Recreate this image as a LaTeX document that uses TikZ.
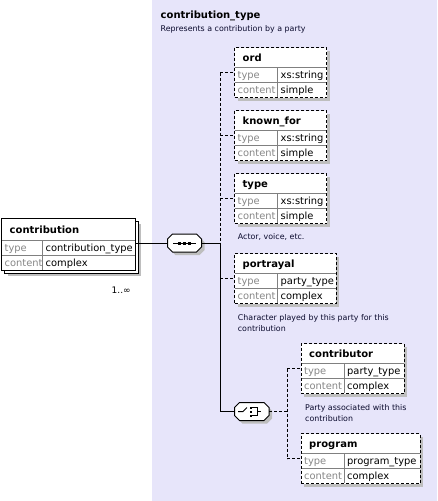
\documentclass[tikz,border=0pt]{standalone}
\usepackage{fontspec}
\setmainfont{DejaVu Sans}
\definecolor{lav}{RGB}{231,229,250}
\definecolor{shad}{RGB}{190,190,190}
\definecolor{lbl}{RGB}{135,135,135}
\definecolor{divc}{RGB}{128,128,128}
\definecolor{desc}{RGB}{10,10,45}
\tikzset{
  xbox/.style={draw=black, fill=white, line width=1pt, inner sep=0pt, outer sep=0pt, anchor=north west, rectangle},
  optline/.style={dash pattern=on 3pt off 2pt},
  conn/.style={line width=1pt, draw=black},
  divline/.style={line width=1pt, draw=divc},
  ttl/.style={anchor=base west, inner sep=0pt, font=\fontsize{10}{12}\selectfont\bfseries},
  lab/.style={anchor=base west, inner sep=0pt, text=lbl, font=\fontsize{9.9}{11}\selectfont},
  val/.style={anchor=base west, inner sep=0pt, font=\fontsize{9.9}{11}\selectfont},
  dsc/.style={anchor=base west, inner sep=0pt, text=desc, font=\fontsize{7.9}{11}\selectfont},
  comp/.style={draw=none, fill=none, inner sep=0pt, outer sep=0pt, rectangle},
  glyph/.style={line width=1pt, draw=black},
}
% #1 name, #2 x, #3 y, #4 width, #5 title, #6 type, #7 content, #8 extra style
\newcommand\xelem[8]{%
  \fill[shad] ({#2+3},{#3+3}) rectangle ({#2+#4+3},{#3+53});
  \node[xbox, #8, minimum width=#4pt, minimum height=50pt] (#1) at (#2,#3) {};
  \draw[divline] ({#2+0.5},{#3+20}) -- ({#2+#4-0.5},{#3+20});
  \draw[divline] ({#2+0.5},{#3+35}) -- ({#2+#4-0.5},{#3+35});
  \draw[divline] ({#2+43},{#3+20}) -- ({#2+43},{#3+49.5});
  \node[ttl] (#1-title) at ({#2+8},{#3+13.8}) {#5};
  \node[lab] (#1-tl) at ({#2+3},{#3+30.8}) {type};
  \node[val] (#1-tv) at ({#2+46},{#3+30.8}) {#6};
  \node[lab] (#1-cl) at ({#2+3},{#3+46}) {content};
  \node[val] (#1-cv) at ({#2+46},{#3+46}) {#7};
}
% octagon: x0 y0 x1 y1 style
\newcommand\octa[5]{%
  \path[#5] ({#1+5},#2) -- ({#3-5},#2) -- (#3,{#2+5}) -- (#3,{#4-5}) -- ({#3-5},#4) -- ({#1+5},#4) -- (#1,{#4-5}) -- (#1,{#2+5}) -- cycle;}
\begin{document}
\begin{tikzpicture}[x=1pt,y=-1pt]
\useasboundingbox (0,0) rectangle (437,501);
\fill[white] (0,0) rectangle (437,501);
\fill[lav] (152,0) rectangle (437,501);

% header
\node[ttl] (hdr) at (160.5,18.8) {contribution\_type};
\node[dsc] (hdrdesc) at (160.5,31.5) {Represents a contribution by a party};

% contribution (stacked)
\fill[shad] (7.5,224) rectangle (141,276);
\draw[fill=white, line width=1pt] (4.5,221) rectangle (138,273);
\node[xbox, minimum width=133.5pt, minimum height=52pt] (contribution) at (1.5,218) {};
\draw[divline] (2,240) -- (134.5,240);
\draw[divline] (2,255) -- (134.5,255);
\draw[divline] (42.5,240) -- (42.5,269.5);
\node[ttl] (contribution-title) at (9.5,233) {contribution};
\node[lab] (contribution-tl) at (4.5,251) {type};
\node[val] (contribution-tv) at (45.5,251) {contribution\_type};
\node[lab] (contribution-cl) at (4.5,266) {content};
\node[val] (contribution-cv) at (45.5,266) {complex};
\node[anchor=base west, inner sep=0pt, font=\fontsize{9}{11}\selectfont] (mult) at (111.5,293) {1..∞};

% sequence compositor
\octa{170.5}{237}{204.5}{255}{fill=shad}
\octa{167.5}{234}{201.5}{252}{fill=white, draw=black, line width=1pt}
\node[comp, minimum width=34pt, minimum height=18pt] (seq) at (184.5,243) {};
\draw[glyph] (173,243) -- (196,243);
\fill (178,241.5) rectangle (181,244.5);
\fill (183,241.5) rectangle (186,244.5);
\fill (188,241.5) rectangle (191,244.5);

% choice compositor
\octa{237.5}{405.5}{272}{423.5}{fill=shad}
\octa{234.5}{402.5}{269}{420.5}{fill=white, draw=black, line width=1pt}
\node[comp, minimum width=34.5pt, minimum height=18pt] (cho) at (251.75,411.5) {};
\draw[glyph] (238,411.5) -- (243,411.5) -- (247,407.5);
\fill (249.5,406.5) rectangle (251.5,408.5);
\fill (249.5,410.5) rectangle (251.5,412.5);
\fill (249.5,414.5) rectangle (251.5,416.5);
\draw[glyph] (251.5,407.5) -- (257,407.5) -- (257,415.5) -- (251.5,415.5);
\draw[glyph] (257,411.5) -- (261,411.5);

% elements
\xelem{ord}{234.5}{47.5}{92.4}{ord}{xs:string}{simple}{optline}
\xelem{knownfor}{234.5}{110.5}{92.4}{known\_for}{xs:string}{simple}{optline}
\xelem{typeel}{234.5}{173.5}{92.4}{type}{xs:string}{simple}{optline}
\node[dsc] (typedesc) at (237.7,239.5) {Actor, voice, etc.};
\xelem{portrayal}{234.5}{253.5}{101.7}{portrayal}{party\_type}{complex}{optline}
\node[dsc] (pordesc1) at (237.7,320) {Character played by this party for this};
\node[dsc] (pordesc2) at (237.7,331) {contribution};
\xelem{contributor}{301}{343.5}{103}{contributor}{party\_type}{complex}{optline}
\node[dsc] (condesc1) at (305,410.5) {Party associated with this};
\node[dsc] (condesc2) at (305,421.5) {contribution};
\xelem{program}{301}{433.5}{119}{program}{program\_type}{complex}{optline}

% trunk coordinates
\coordinate (tA) at (220,72.5);
\coordinate (tB) at (220,135.5);
\coordinate (tC) at (220,198.5);
\coordinate (tS) at (220,243);
\coordinate (tD) at (220,278.5);
\coordinate (tE) at (220,411.5);
\coordinate (uS) at (287,411.5);
\coordinate (uA) at (287,368.5);
\coordinate (uB) at (287,458.5);

% connectors
\draw[conn] (contribution.east |- seq.west) -- (seq.west);
\draw[conn] (seq.east) -- (tS);
\draw[conn, optline] (tA) -- (tS);
\draw[conn] (tS) -- (tE);
\draw[conn, optline] (tA) -- (tA -| ord.west);
\draw[conn, optline] (tB) -- (tB -| knownfor.west);
\draw[conn, optline] (tC) -- (tC -| typeel.west);
\draw[conn, optline] (tD) -- (tD -| portrayal.west);
\draw[conn] (tE) -- (cho.west);
\draw[conn, optline] (cho.east) -- (uS);
\draw[conn, optline] (uA) -- (uB);
\draw[conn, optline] (uA) -- (uA -| contributor.west);
\draw[conn, optline] (uB) -- (uB -| program.west);
\end{tikzpicture}
\end{document}
